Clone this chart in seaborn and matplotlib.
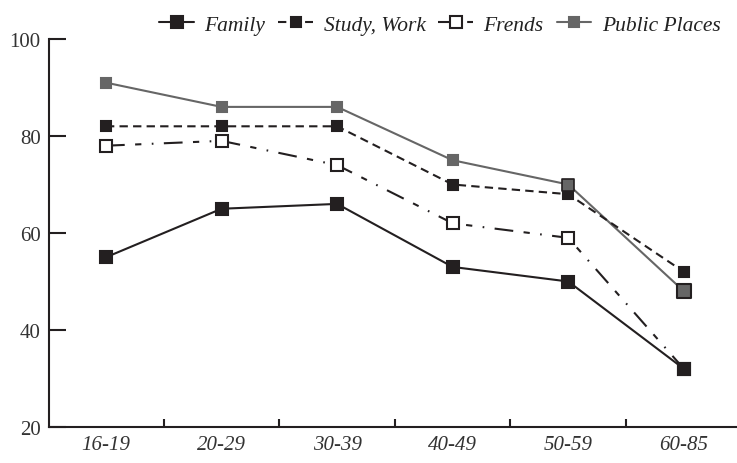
import matplotlib
matplotlib.use("Agg")
import matplotlib.pyplot as plt
import seaborn as sns
import pandas as pd
from matplotlib.lines import Line2D

categories = ["16-19", "20-29", "30-39", "40-49", "50-59", "60-85"]
family = [55, 65, 66, 53, 50, 32]
study_work = [82, 82, 82, 70, 68, 52]
frends = [78, 79, 74, 62, 59, 32]
public_places = [91, 86, 86, 75, 70, 48]
y_ticks = [20, 40, 60, 80, 100]

sns.set_theme(style="white")
plt.rcParams["font.family"] = ["Liberation Serif", "DejaVu Serif"]

fig = plt.figure(figsize=(7.37, 4.64), dpi=100)
ax = fig.add_axes([49 / 737, 1 - 428 / 464, 688 / 737, (428 - 40) / 464])

x = list(range(len(categories)))
dark = "#231f20"
gray = "#666666"

styles = {
    "Family": dict(data=family, color=dark, ls="-", marker="s", ms=9.0, mfc=dark, mec=dark),
    "Study, Work": dict(data=study_work, color=dark, ls=(0, (4, 2.5)), marker="s", ms=7.0, mfc=dark, mec=dark),
    "Frends": dict(data=frends, color=dark, ls=(0, (9, 5, 3, 5, 0.8, 5)), marker="s", ms=8.0, mfc="white", mec=dark),
    "Public Places": dict(data=public_places, color=gray, ls="-", marker="s", ms=7.0, mfc=gray, mec=gray),
}

order = ["Public Places", "Frends", "Study, Work", "Family"]
for name in order:
    s = styles[name]
    df = pd.DataFrame({"x": x, "y": s["data"]})
    sns.lineplot(data=df, x="x", y="y", ax=ax, color=s["color"], linestyle=s["ls"],
                 linewidth=1.5, marker=s["marker"], markersize=s["ms"],
                 markerfacecolor=s["mfc"], markeredgecolor=s["mec"], markeredgewidth=1.5,
                 zorder=3)

# last public places markers with dark edge
df_last = pd.DataFrame({"x": [x[-1]], "y": [public_places[-1]]})
sns.scatterplot(data=df_last, x="x", y="y", ax=ax, marker="s", s=95, color=gray,
                edgecolor=dark, linewidth=1.5, zorder=4)
df_last2 = pd.DataFrame({"x": [x[-2]], "y": [public_places[-2]]})
sns.scatterplot(data=df_last2, x="x", y="y", ax=ax, marker="s", s=75, color=gray,
                edgecolor=dark, linewidth=1.2, zorder=4)

ax.set_xlim(-0.493, 5.46)
ax.set_ylim(20, 100)
ax.set_yticks(y_ticks)
ax.set_yticklabels([str(v) for v in y_ticks], fontsize=15, color="#333333")
ax.set_xticks(x)
ax.set_xticklabels(categories, fontsize=15, style="italic", color="#333333")
ax.set_xticks([i + 0.5 for i in x[:-1]], minor=True)
ax.tick_params(axis="x", which="major", length=0, pad=6)
ax.tick_params(axis="x", which="minor", direction="in", length=6, width=1.5, color=dark, bottom=True)
ax.tick_params(axis="y", which="major", direction="in", length=12, width=1.5, color=dark, left=True, pad=6)
ax.set_xlabel("")
ax.set_ylabel("")
for sp in ["top", "right"]:
    ax.spines[sp].set_visible(False)
for sp in ["left", "bottom"]:
    ax.spines[sp].set_color(dark)
    ax.spines[sp].set_linewidth(1.5)
ax.grid(False)

handles = []
for name in ["Family", "Study, Work", "Frends", "Public Places"]:
    s = styles[name]
    handles.append(Line2D([0], [0], color=s["color"], ls=s["ls"], lw=1.5, marker=s["marker"],
                          ms=s["ms"], mfc=s["mfc"], mec=s["mec"], mew=1.5))
fig.legend(handles, ["Family", "Study, Work", "Frends", "Public Places"],
           loc="upper center", bbox_to_anchor=(0.597, 1.008), ncol=4, frameon=False,
           prop={"family": ["Liberation Serif"], "style": "italic", "size": 15.5},
           handlelength=1.6, handletextpad=0.5, columnspacing=0.6, labelcolor="#222222")

fig.savefig("out.png", dpi=100)
